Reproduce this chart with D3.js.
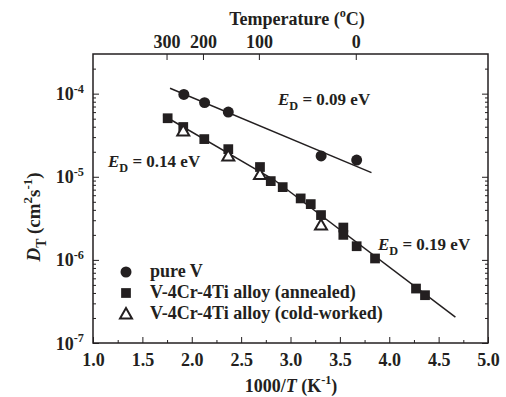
<!DOCTYPE html>
<html>
<head>
<meta charset="utf-8">
<script src="https://d3js.org/d3.v7.min.js"></script>
<style>
body { margin: 0; background: #fff; }
text { font-family: "Liberation Serif", "Times New Roman", serif; font-weight: bold; fill: #231f20; }
.axis path, .axis line { stroke: #231f20; }
.axis path { display: none; }
</style>
</head>
<body>
<div id="chart-area"></div>
<script>
// pure V
var pureX = [1.92, 2.13, 2.37, 3.31, 3.67];
var pureD = [9.8e-5, 7.8e-5, 6.0e-5, 1.78e-5, 1.59e-5];
// V-4Cr-4Ti annealed
var annX = [1.756, 1.914, 2.127, 2.370, 2.691, 2.800, 2.921, 3.103, 3.205, 3.309, 3.535, 3.535, 3.670, 3.856, 4.271, 4.362];
var annD = [5.06e-5, 3.97e-5, 2.84e-5, 2.15e-5, 1.31e-5, 8.87e-6, 7.51e-6, 5.49e-6, 4.69e-6, 3.46e-6, 2.45e-6, 2.0e-6, 1.46e-6, 1.04e-6, 4.52e-7, 3.76e-7];
// V-4Cr-4Ti cold-worked
var cwX = [1.914, 2.370, 2.691, 3.309];
var cwD = [3.56e-5, 1.78e-5, 1.06e-5, 2.62e-6];
// fitted lines [x, D]
var fitPure = [[1.78, 1.16e-4], [3.82, 1.12e-5]];
var fitAnnLow = [[1.71, 5.5e-5], [2.85, 8.9e-6]];
var fitAnnHigh = [[2.85, 8.9e-6], [4.67, 2.05e-7]];
var xTicks = [1.0, 1.5, 2.0, 2.5, 3.0, 3.5, 4.0, 4.5, 5.0];
var tempTicks = [300, 200, 100, 0];
var yDecades = [1e-7, 1e-6, 1e-5, 1e-4];
var yExps = ["-7", "-6", "-5", "-4"];

var margin = { left: 93, right: 18, top: 54, bottom: 54 },
    width = 506 - margin.left - margin.right,
    height = 397 - margin.top - margin.bottom;

var svg = d3.select("#chart-area").append("svg")
    .attr("width", 506)
    .attr("height", 397);

var g = svg.append("g")
    .attr("transform", "translate(" + margin.left + "," + margin.top + ")");

var x = d3.scaleLinear().domain([1, 5]).range([0, width]);
var y = d3.scaleLog().domain([1e-7, 3e-4]).range([height, 0]);

// writes a list of [text, style] parts into a text element
function rich(sel, parts, size) {
    var shift = 0;
    parts.forEach(function(p) {
        var ts = sel.append("tspan").text(p[0]);
        var target = 0;
        if (p[1] == "sup") { target = -size * 0.42; ts.attr("font-size", size * 0.68); }
        if (p[1] == "sub") { target = size * 0.3; ts.attr("font-size", size * 0.72); }
        if (p[1] == "i") ts.style("font-style", "italic");
        if (target - shift != 0) ts.attr("dy", target - shift);
        shift = target;
    });
}

var minorX = d3.range(1.25, 5, 0.5);
var minorY = [];
[1e-7, 1e-6, 1e-5, 1e-4].forEach(function(d) {
    for (var k = 2; k <= 9; k++) {
        if (d * k <= 3e-4) minorY.push(d * k);
    }
});

// bottom axis
g.append("g")
    .attr("class", "axis")
    .attr("transform", "translate(0," + height + ")")
    .call(d3.axisBottom(x).tickValues(xTicks).tickSize(-6).tickPadding(10).tickFormat(d3.format(".1f")))
    .selectAll("text")
        .attr("font-size", 18);
g.append("g")
    .attr("class", "axis")
    .attr("transform", "translate(0," + height + ")")
    .call(d3.axisBottom(x).tickValues(minorX).tickSize(-3).tickFormat(""));

// top axis in temperature
g.append("g")
    .attr("class", "axis")
    .call(d3.axisTop(x).tickValues(tempTicks.map(function(t) { return 1000 / (t + 273.15); }))
        .tickSize(-6).tickPadding(6)
        .tickFormat(function(d, i) { return tempTicks[i]; }))
    .selectAll("text")
        .attr("font-size", 18);

// left axis
var yl = g.append("g")
    .attr("class", "axis")
    .call(d3.axisLeft(y).tickValues(yDecades).tickSize(-6).tickFormat(""));
yl.selectAll(".tick").append("text")
    .attr("x", -9)
    .attr("y", 6)
    .attr("text-anchor", "end")
    .attr("font-size", 18)
    .each(function(d, i) {
        rich(d3.select(this), [["10", ""], [yExps[i], "sup"]], 18);
    });
g.append("g")
    .attr("class", "axis")
    .call(d3.axisLeft(y).tickValues(minorY).tickSize(-3).tickFormat(""));

// right axis
g.append("g")
    .attr("class", "axis")
    .attr("transform", "translate(" + width + ",0)")
    .call(d3.axisRight(y).tickValues(yDecades).tickSize(-6).tickFormat(""));
g.append("g")
    .attr("class", "axis")
    .attr("transform", "translate(" + width + ",0)")
    .call(d3.axisRight(y).tickValues(minorY).tickSize(-3).tickFormat(""));

// frame
g.append("rect")
    .attr("width", width)
    .attr("height", height)
    .attr("fill", "none")
    .attr("stroke", "#231f20")
    .attr("stroke-width", 1.5);

// fit lines
var line = d3.line()
    .x(function(d) { return x(d[0]); })
    .y(function(d) { return y(d[1]); });
[fitPure, fitAnnLow, fitAnnHigh].forEach(function(f) {
    g.append("path")
        .attr("d", line(f))
        .attr("fill", "none")
        .attr("stroke", "#231f20")
        .attr("stroke-width", 1.5);
});

var sym = {
    circle: d3.symbol().type(d3.symbolCircle).size(95),
    square: d3.symbol().type(d3.symbolSquare).size(95),
    triangle: d3.symbol().type(d3.symbolTriangle).size(62)
};

g.selectAll(".pure")
    .data(pureX)
    .enter().append("path")
    .attr("class", "pure")
    .attr("d", sym.circle())
    .attr("transform", function(d, i) { return "translate(" + x(d) + "," + y(pureD[i]) + ")"; })
    .attr("fill", "#231f20");

g.selectAll(".ann")
    .data(annX)
    .enter().append("path")
    .attr("class", "ann")
    .attr("d", sym.square())
    .attr("transform", function(d, i) { return "translate(" + x(d) + "," + y(annD[i]) + ")"; })
    .attr("fill", "#231f20");

g.selectAll(".cw")
    .data(cwX)
    .enter().append("path")
    .attr("class", "cw")
    .attr("d", sym.triangle())
    .attr("transform", function(d, i) { return "translate(" + x(d) + "," + (y(cwD[i]) + 1) + ")"; })
    .attr("fill", "#fff")
    .attr("stroke", "#231f20")
    .attr("stroke-width", 2);

// activation energy labels
var eLabels = [
    { t: "0.09", x: 278, y: 105 },
    { t: "0.14", x: 108, y: 167 },
    { t: "0.19", x: 378, y: 250 }
];
eLabels.forEach(function(e) {
    var t = svg.append("text")
        .attr("x", e.x)
        .attr("y", e.y)
        .attr("font-size", 17);
    rich(t, [["E", "i"], ["D", "sub"], [" = " + e.t + " eV", ""]], 17);
});

// legend
var legendItems = ["pure V", "V-4Cr-4Ti alloy (annealed)", "V-4Cr-4Ti alloy (cold-worked)"];
var legendSym = ["circle", "square", "triangle"];
var legend = svg.append("g")
    .attr("transform", "translate(126,272)");
legendItems.forEach(function(name, i) {
    var row = legend.append("g")
        .attr("transform", "translate(0," + (i * 21) + ")");
    row.append("path")
        .attr("d", sym[legendSym[i]]())
        .attr("transform", i == 2 ? "translate(0,1)" : null)
        .attr("fill", i == 2 ? "#fff" : "#231f20")
        .attr("stroke", i == 2 ? "#231f20" : "none")
        .attr("stroke-width", 2);
    row.append("text")
        .attr("x", 24)
        .attr("y", 5)
        .attr("font-size", 18)
        .text(name);
});

// axis titles
var xt = svg.append("text")
    .attr("x", 291)
    .attr("y", 392)
    .attr("text-anchor", "middle")
    .attr("font-size", 18);
rich(xt, [["1000/", ""], ["T", "i"], [" (K", ""], ["-1", "sup"], [")", ""]], 18);

var tt = svg.append("text")
    .attr("x", 297)
    .attr("y", 25)
    .attr("text-anchor", "middle")
    .attr("font-size", 18);
rich(tt, [["Temperature (", ""], ["o", "sup"], ["C)", ""]], 18);

var yt = svg.append("text")
    .attr("transform", "translate(40,217) rotate(-90)")
    .attr("text-anchor", "middle")
    .attr("font-size", 19);
rich(yt, [["D", "i"], ["T", "sub"], [" (cm", ""], ["2", "sup"], ["s", ""], ["-1", "sup"], [")", ""]], 19);
</script>
</body>
</html>
